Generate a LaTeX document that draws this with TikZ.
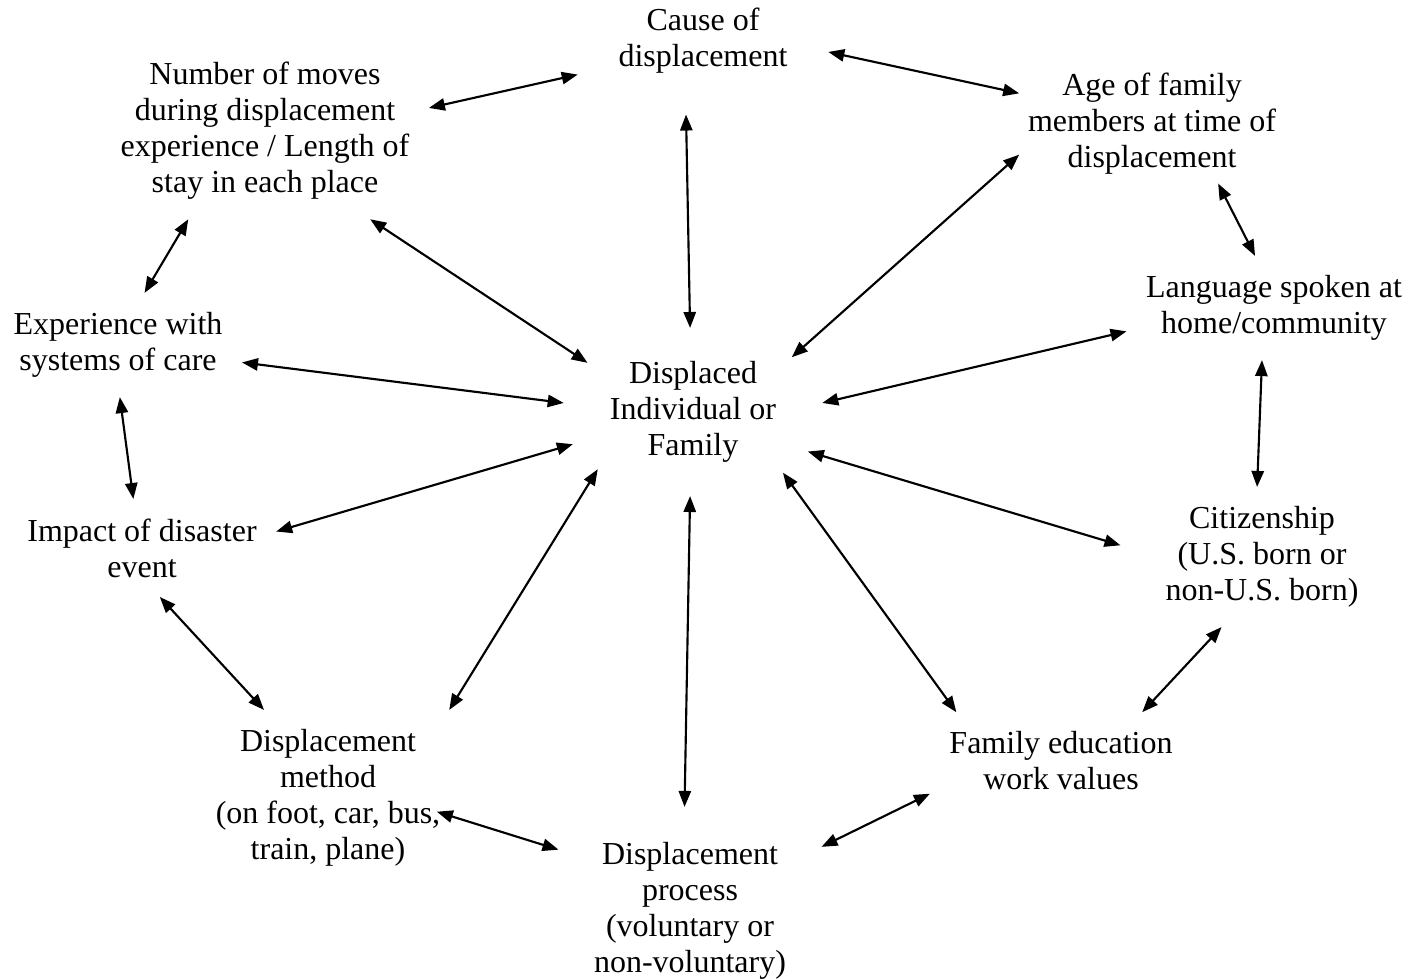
\documentclass[tikz,border=0pt]{standalone}
\usepackage{fontspec}
\setmainfont{Liberation Serif}
\usepackage{tikz}
\usetikzlibrary{arrows.meta}
\usetikzlibrary{shapes.geometric}

\begin{document}
\begin{tikzpicture}[x=0.375pt, y=-0.375pt,
  factor/.style={align=center, inner sep=3.33pt, outer sep=4pt,
                 font=\fontsize{12}{13.5}\selectfont},
  link/.style={{Triangle[length=6pt,width=4.6pt]}-{Triangle[length=6pt,width=4.6pt]},
               line width=0.8pt}]

\useasboundingbox (0,-3) rectangle (1418,976);

\draw (703, 38) node[factor, outer sep=12pt] (cause) {Cause of\\displacement};
\draw (265, 128) node[factor] (moves) {Number of moves\\during displacement\\experience / Length of\\stay in each place};
\draw (1152, 121) node[factor, outer sep=0pt] (age) {Age of family\\members at time of\\displacement};
\draw (1274, 305) node[factor] (lang) {Language spoken at\\home/community};
\draw (118, 342) node[factor] (care) {Experience with\\systems of care};
\draw (693, 409) node[factor, ellipse, outer sep=0pt] (family) {Displaced\\Individual or\\Family};
\draw (142, 545) node[factor] (impact) {Impact of disaster\\event};
\draw (1262, 554) node[factor] (citizen) {Citizenship\\(U.S. born or\\non-U.S. born)};
\draw (328, 795) node[factor] (method) {Displacement\\method\\(on foot, car, bus,\\train, plane)};
\draw (1061, 758) node[factor] (values) {Family education\\work values};
\draw (690, 908) node[factor, outer sep=10pt] (process) {Displacement\\process\\(voluntary or\\non-voluntary)};

\draw[link] (cause.195) -- (moves.8);
\draw[link] (cause.355) -- (age.167);
\draw[link] (cause.257) -- (family.92);
\draw[link] (moves.320) -- (family.155);
\draw[link] (age.193) -- (family.29);
\draw[link] (age.318) -- (lang.110);
\draw[link] (moves.229) -- (care.63);
\draw[link] (care.352) -- (family.176);
\draw[link] (lang.189) -- (family.4.5);
\draw[link] (lang.257) -- (citizen.94);
\draw[link] (care.272) -- (impact.100);
\draw[link] (impact.7) -- (family.195);
\draw[link, shorten >=10pt] (family.341) -- (citizen.178);
\draw[link] (family.211) -- (method.36);
\draw[link] (family.268) -- (process.93);
\draw[link] (family.326) -- (values.155);
\draw[link] (impact.290) -- (method.126);
\draw[link] (citizen.240) -- (values.31);
\draw[link, shorten <=-9pt] (method.351) -- (process.155);
\draw[link] (process.26) -- (values.194);
\end{tikzpicture}
\end{document}
